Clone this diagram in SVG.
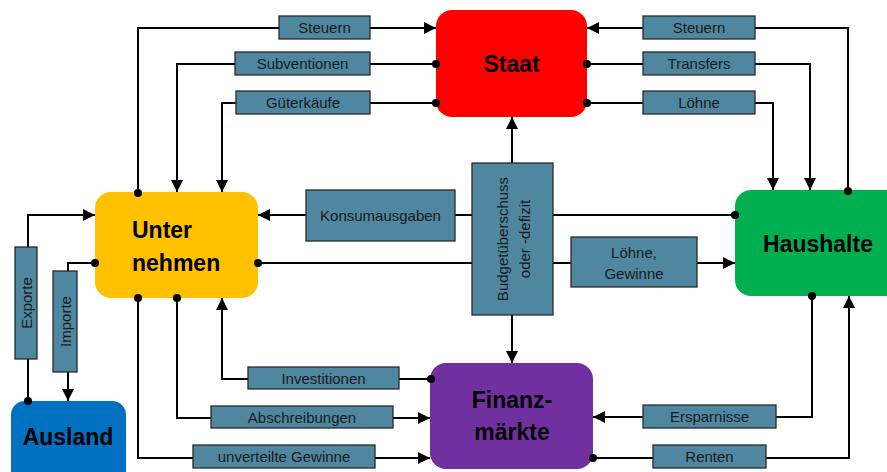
<svg xmlns="http://www.w3.org/2000/svg" width="887" height="472" viewBox="0 0 887 472">
<style>
.lb{fill:#4F87A1;stroke:#2a2a2a;stroke-width:1.3}
.lt{font-family:"Liberation Sans",Arial,sans-serif;font-size:15px;fill:#1a1a1a;text-anchor:middle}
.nt{font-family:"Liberation Sans",Arial,sans-serif;font-size:23px;font-weight:bold;fill:#000}
.c{fill:none;stroke:#000;stroke-width:2}
</style>
<defs>
<marker id="arr" viewBox="0 0 10 10" refX="10" refY="5" markerWidth="13" markerHeight="12" markerUnits="userSpaceOnUse" orient="auto">
<path d="M0,0 L10,5 L0,10 z" fill="#000"/>
</marker>
<marker id="dot" viewBox="0 0 10 10" refX="5" refY="5" markerWidth="8" markerHeight="8" markerUnits="userSpaceOnUse">
<circle cx="5" cy="5" r="5" fill="#000"/>
</marker>
</defs>
<rect width="887" height="472" fill="#fff"/>
<g id="staat">
<rect x="436" y="10" width="151" height="107" rx="16" fill="#FF0000"/>
<text class="nt" x="511.5" y="72" text-anchor="middle">Staat</text>
</g>
<g id="unternehmen">
<rect x="95" y="192" width="163" height="106" rx="16" fill="#FFC000"/>
<text class="nt" x="132" y="238">Unter</text>
<text class="nt" x="132" y="271">nehmen</text>
</g>
<g id="haushalte">
<rect x="735" y="190" width="170" height="106" rx="16" fill="#00B050"/>
<text class="nt" x="818" y="252" text-anchor="middle">Haushalte</text>
</g>
<g id="finanzmaerkte">
<rect x="430" y="363" width="163" height="106" rx="16" fill="#7030A0"/>
<text class="nt" x="512" y="408" text-anchor="middle">Finanz-</text>
<text class="nt" x="512" y="440" text-anchor="middle">märkte</text>
</g>
<g id="ausland">
<rect x="11" y="401" width="115" height="90" rx="14" fill="#0070C0"/>
<text class="nt" x="68" y="445" text-anchor="middle">Ausland</text>
</g>
<g id="connectors">
<polyline class="c" points="138,193 138,28 436,28" marker-start="url(#dot)" marker-end="url(#arr)"/>
<polyline class="c" points="436,64 177,64 177,192" marker-start="url(#dot)" marker-end="url(#arr)"/>
<polyline class="c" points="436,103 222,103 222,192" marker-start="url(#dot)" marker-end="url(#arr)"/>
<polyline class="c" points="848,191 848,28 587,28" marker-start="url(#dot)" marker-end="url(#arr)"/>
<polyline class="c" points="587,64 810,64 810,190" marker-start="url(#dot)" marker-end="url(#arr)"/>
<polyline class="c" points="587,103 773,103 773,190" marker-start="url(#dot)" marker-end="url(#arr)"/>
<polyline class="c" points="512,163 512,117" marker-end="url(#arr)"/>
<polyline class="c" points="512,315 512,363" marker-end="url(#arr)"/>
<polyline class="c" points="735,215 258,215" marker-start="url(#dot)" marker-end="url(#arr)"/>
<polyline class="c" points="258,263 735,263" marker-start="url(#dot)" marker-end="url(#arr)"/>
<polyline class="c" points="28,401 28,215 95,215" marker-start="url(#dot)" marker-end="url(#arr)"/>
<polyline class="c" points="95,263 68,263 68,401" marker-start="url(#dot)" marker-end="url(#arr)"/>
<polyline class="c" points="431,379 222,379 222,298" marker-start="url(#dot)" marker-end="url(#arr)"/>
<polyline class="c" points="177,298 177,418 430,418" marker-start="url(#dot)" marker-end="url(#arr)"/>
<polyline class="c" points="138,298 138,458 430,458" marker-start="url(#dot)" marker-end="url(#arr)"/>
<polyline class="c" points="812,296 812,417 593,417" marker-start="url(#dot)" marker-end="url(#arr)"/>
<polyline class="c" points="593,458 849,458 849,296" marker-start="url(#dot)" marker-end="url(#arr)"/>
</g>
<g id="budget">
<rect class="lb" x="472" y="163" width="81" height="152"/>
<text class="lt" transform="translate(508,239) rotate(-90)">Budgetüberschuss</text>
<text class="lt" transform="translate(530,239) rotate(-90)">oder -defizit</text>
</g>
<g id="l-steuern-u">
<rect class="lb" x="279" y="16" width="91" height="23"/>
<text class="lt" x="324.5" y="33">Steuern</text>
</g>
<g id="l-subventionen">
<rect class="lb" x="235" y="52" width="135" height="23"/>
<text class="lt" x="302.5" y="69">Subventionen</text>
</g>
<g id="l-gueterkaeufe">
<rect class="lb" x="236" y="91" width="134" height="23"/>
<text class="lt" x="303" y="108">Güterkäufe</text>
</g>
<g id="l-steuern-h">
<rect class="lb" x="643" y="16" width="112" height="23"/>
<text class="lt" x="699" y="33">Steuern</text>
</g>
<g id="l-transfers">
<rect class="lb" x="643" y="52" width="112" height="23"/>
<text class="lt" x="699" y="69">Transfers</text>
</g>
<g id="l-loehne">
<rect class="lb" x="643" y="91" width="112" height="23"/>
<text class="lt" x="699" y="108">Löhne</text>
</g>
<g id="l-konsum">
<rect class="lb" x="306" y="190" width="149" height="51"/>
<text class="lt" x="380.5" y="221">Konsumausgaben</text>
</g>
<g id="l-loehne-gewinne">
<rect class="lb" x="571" y="237" width="126" height="50"/>
<text class="lt" x="634" y="258">Löhne,</text>
<text class="lt" x="634" y="279">Gewinne</text>
</g>
<g id="l-exporte">
<rect class="lb" x="15" y="247" width="22" height="112"/>
<text class="lt" transform="translate(31.5,303) rotate(-90)">Exporte</text>
</g>
<g id="l-importe">
<rect class="lb" x="53" y="271" width="24" height="101"/>
<text class="lt" transform="translate(70.5,321.5) rotate(-90)">Importe</text>
</g>
<g id="l-investitionen">
<rect class="lb" x="248" y="367" width="151" height="22"/>
<text class="lt" x="323.5" y="383.5">Investitionen</text>
</g>
<g id="l-abschreibungen">
<rect class="lb" x="211" y="406" width="182" height="22"/>
<text class="lt" x="302" y="422.5">Abschreibungen</text>
</g>
<g id="l-unverteilte">
<rect class="lb" x="193" y="445" width="182" height="23"/>
<text class="lt" x="284" y="462">unverteilte Gewinne</text>
</g>
<g id="l-ersparnisse">
<rect class="lb" x="643" y="405" width="133" height="23"/>
<text class="lt" x="709.5" y="422">Ersparnisse</text>
</g>
<g id="l-renten">
<rect class="lb" x="653" y="445" width="113" height="23"/>
<text class="lt" x="709.5" y="462">Renten</text>
</g>
</svg>
